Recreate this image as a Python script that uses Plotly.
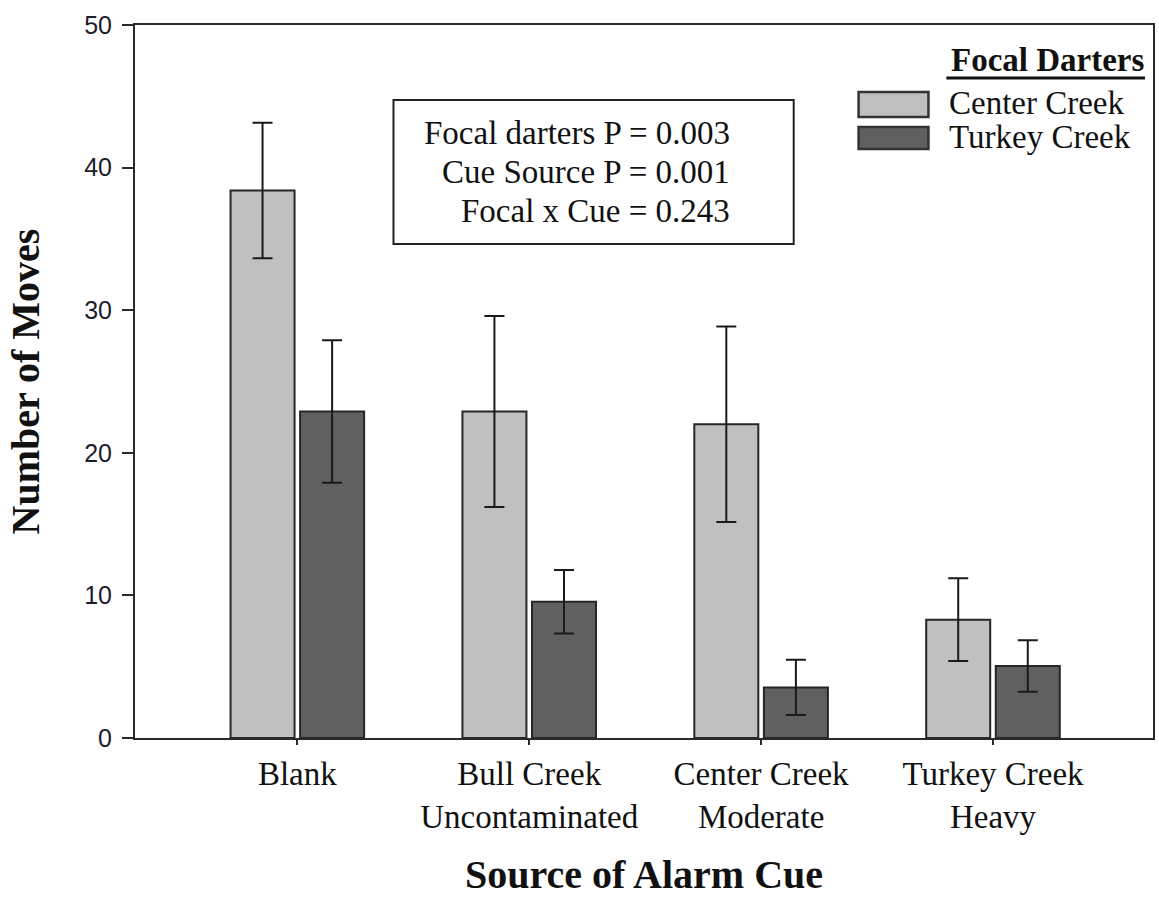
import plotly.graph_objects as go

# Alarm cue sources (x categories) and the two focal darter populations
categories = ["Blank", "Bull Creek<br>Uncontaminated", "Center Creek<br>Moderate", "Turkey Creek<br>Heavy"]
series_names = ["Center Creek", "Turkey Creek"]

# Mean number of moves and standard errors
center_mean = [38.4, 22.9, 22.0, 8.3]
center_se = [4.75, 6.7, 6.85, 2.9]
turkey_mean = [22.9, 9.55, 3.55, 5.05]
turkey_se = [5.0, 2.23, 1.93, 1.81]

# ANOVA results shown in the inset box
stats_lines = ["Focal darters P = 0.003", "Cue Source P = 0.001", "Focal x Cue = 0.243"]

y_ticks = [0, 10, 20, 30, 40, 50]

W, H = 1159, 897
M_L, M_R, M_T, M_B = 135, 4, 25, 159
PW, PH = W - M_L - M_R, H - M_T - M_B


def px(xp):
    return (xp - M_L) / PW


def py(yp):
    return (H - M_B - yp) / PH


SERIF = "Liberation Serif, Times New Roman, serif"
SANS = "Liberation Sans, Arial, sans-serif"
fills = ["#c0c0c0", "#606060"]

fig = go.Figure()
for name, mean, se, col in zip(series_names, [center_mean, turkey_mean],
                               [center_se, turkey_se], fills):
    fig.add_trace(go.Bar(
        x=categories, y=mean, name=name,
        marker=dict(color=col, line=dict(color="#262626", width=2)),
        error_y=dict(type="data", array=se, visible=True,
                     color="#1a1a1a", thickness=2, width=10),
        showlegend=False,
    ))

fig.update_layout(
    width=W, height=H,
    margin=dict(l=M_L, r=M_R, t=M_T, b=M_B),
    paper_bgcolor="white", plot_bgcolor="white",
    barmode="group", bargap=0.40, bargroupgap=0.08,
    font=dict(family=SERIF, color="#111"),
)

fig.update_xaxes(
    type="category", range=[-0.7, 3.69],
    showline=True, linecolor="#2a2a2a", linewidth=2, mirror=True,
    ticks="outside", ticklen=5, tickwidth=1.5, tickcolor="#2a2a2a",
    tickfont=dict(family=SERIF, size=33, color="#111"),
    showgrid=False, zeroline=False,
    title=dict(text="<b>Source of Alarm Cue</b>",
               font=dict(family=SERIF, size=40, color="#111"), standoff=28),
)
fig.update_yaxes(
    range=[0, 50], tickvals=y_ticks,
    showline=True, linecolor="#2a2a2a", linewidth=2, mirror=True,
    ticks="outside", ticklen=11, tickwidth=2, tickcolor="#2a2a2a",
    tickfont=dict(family=SANS, size=25, color="#1c1c2c"),
    ticklabelstandoff=5,
    showgrid=False, zeroline=False,
    title=dict(text="<b>Number of Moves</b>",
               font=dict(family=SERIF, size=40, color="#111"), standoff=32),
)

# Inset box with the statistics, one right-aligned line each
fig.add_shape(type="rect", xref="paper", yref="paper",
              x0=px(394), x1=px(795), y0=py(244), y1=py(100),
              line=dict(color="#222", width=2), fillcolor="white")
for line, yc in zip(stats_lines, [133, 172, 211]):
    fig.add_annotation(xref="paper", yref="paper", x=px(733), y=py(yc),
                       xanchor="right", yanchor="middle", align="right",
                       text=line, showarrow=False,
                       font=dict(family=SERIF, size=33, color="#111"))

# Legend block
fig.add_annotation(xref="paper", yref="paper", x=px(1148), y=py(60),
                   xanchor="right", yanchor="middle",
                   text="<b>Focal Darters</b>", showarrow=False,
                   font=dict(family=SERIF, size=33, color="#111"))
fig.add_shape(type="line", xref="paper", yref="paper",
              x0=px(948), x1=px(1147), y0=py(78), y1=py(78),
              line=dict(color="#111", width=3))
swatch_rows = [(92, 117), (127, 149)]
for name, col, (top, bot) in zip(series_names, fills, swatch_rows):
    fig.add_shape(type="rect", xref="paper", yref="paper",
                  x0=px(860), x1=px(930), y0=py(bot), y1=py(top),
                  line=dict(color="#333", width=2.5), fillcolor=col)
    fig.add_annotation(xref="paper", yref="paper", x=px(949), y=py((top + bot) / 2 - 1),
                       xanchor="left", yanchor="middle", text=name, showarrow=False,
                       font=dict(family=SERIF, size=33, color="#111"))

fig.write_html("out.html")
